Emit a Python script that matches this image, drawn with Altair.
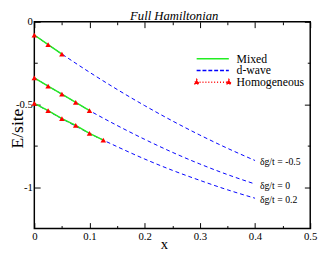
import altair as alt
import pandas as pd

# ---- data ----
title_text = ["Full Hamiltonian"]
groups = ["δg/t = -0.5", "δg/t = 0", "δg/t = 0.2"]

x_dw = [0.0, 0.05, 0.1, 0.15, 0.2, 0.25, 0.3, 0.35, 0.4]
dw_m05 = [-0.080, -0.195, -0.305, -0.409, -0.507, -0.599, -0.685, -0.765, -0.839]
dw_0 = [-0.339, -0.438, -0.537, -0.627, -0.711, -0.789, -0.860, -0.924, -0.981]
dw_02 = [-0.493, -0.586, -0.675, -0.755, -0.830, -0.898, -0.959, -1.016, -1.067]

x_h = [0.0, 0.025, 0.05, 0.075, 0.1, 0.125]
hom_m05 = [-0.080, -0.138, -0.195]
hom_0 = [-0.339, -0.389, -0.438, -0.487, -0.537]
hom_02 = [-0.493, -0.537, -0.586, -0.627, -0.675, -0.716]

legend_labels = ["Mixed", "d-wave", "Homogeneous"]

x_major = [0, 0.1, 0.2, 0.3, 0.4, 0.5]
x_minor = [0.05, 0.15, 0.25, 0.35, 0.45]
y_major = [0, -0.5, -1]
y_minor = [-0.25, -0.75]

# ---- tables ----
dw_rows = []
for g, ys in zip(groups, [dw_m05, dw_0, dw_02]):
    for xv, yv in zip(x_dw, ys):
        dw_rows.append({"x": xv, "E": yv, "g": g})
dw_df = pd.DataFrame(dw_rows)

hom_rows = []
for g, ys in zip(groups, [hom_m05, hom_0, hom_02]):
    for xv, yv in zip(x_h, ys):
        hom_rows.append({"x": xv, "E": yv, "g": g})
hom_df = pd.DataFrame(hom_rows)

end_df = dw_df.groupby("g", sort=False).tail(1)
leg_df = pd.DataFrame({"series": legend_labels})
title_df = pd.DataFrame({"t": title_text})

FONT = "Liberation Serif"
W, H = 283, 212
xs = alt.Scale(domain=[0, 0.5], nice=False, zero=False)
ys_ = alt.Scale(domain=[-1.25, 0], nice=False, zero=False)


def ax(orient, values, size, **kw):
    return alt.Axis(orient=orient, values=values, tickSize=size, offset=-size,
                    domain=False, grid=False, tickColor="black", tickWidth=1,
                    **kw)


x_bottom = ax("bottom", x_major, 6, labels=True, labelPadding=2, labelFlush=False,
              labelOverlap=False, labelExpr="toString(datum.value)",
              title="x", titleX=133, titleY=27, titleBaseline="alphabetic",
              titleFontSize=15)
y_left = ax("left", y_major, 6, labels=True, labelPadding=2, labelOverlap=False,
            labelExpr="toString(datum.value)",
            title="E/site", titleX=-18, titleY=109, titleBaseline="alphabetic",
            titleFontSize=18)
x_top = ax("top", x_major, 6, labels=False, title=None)
y_right = ax("right", y_major, 6, labels=False, title=None)
x_bottom_minor = ax("bottom", x_minor, 3, labels=False, title=None)
y_left_minor = ax("left", y_minor, 3, labels=False, title=None)
x_top_minor = ax("top", x_minor, 3, labels=False, title=None)
y_right_minor = ax("right", y_minor, 3, labels=False, title=None)

dwave = alt.Chart(dw_df).mark_line(
    color="#0000ff", strokeDash=[4, 3], strokeWidth=1, interpolate="monotone"
).encode(
    x=alt.X("x:Q", scale=xs, axis=x_bottom),
    y=alt.Y("E:Q", scale=ys_, axis=y_left),
    detail="g:N",
)

hom_line = alt.Chart(hom_df).mark_line(
    color="#ff0000", strokeDash=[1, 2], strokeWidth=1
).encode(
    x=alt.X("x:Q", scale=xs, axis=None),
    y=alt.Y("E:Q", scale=ys_, axis=None),
    detail="g:N",
)

mixed = alt.Chart(hom_df).mark_line(
    color="#22ee22", strokeWidth=1.5
).encode(
    x=alt.X("x:Q", scale=xs, axis=x_top),
    y=alt.Y("E:Q", scale=ys_, axis=y_right),
    detail="g:N",
)

hom_pts = alt.Chart(hom_df).mark_point(
    shape="triangle-up", filled=True, color="#ff0000", size=32, opacity=1
).encode(
    x=alt.X("x:Q", scale=xs, axis=x_bottom_minor),
    y=alt.Y("E:Q", scale=ys_, axis=y_left_minor),
)

labels = alt.Chart(end_df).mark_text(
    align="left", baseline="middle", dx=5, dy=2, font=FONT, fontSize=10,
    color="black"
).encode(
    x=alt.X("x:Q", scale=xs, axis=x_top_minor),
    y=alt.Y("E:Q", scale=ys_, axis=y_right_minor),
    text="g:N",
)

# chart title drawn as text just above the frame (page margin leaves no room higher)
title_mark = alt.Chart(title_df).mark_text(
    align="center", baseline="alphabetic", font=FONT, fontSize=13,
    fontStyle="italic", color="black"
).encode(
    x=alt.value(W / 2 + 2), y=alt.value(-2), text="t:N",
)

line_path = "M-3.3,0H3.3"
hom_path = ("M-3.3,0H3.3M-3.3,-0.55L-2.8,0.35L-3.8,0.35Z"
            "M3.3,-0.55L3.8,0.35L2.8,0.35Z")
leg_colors = ["#22ee22", "#0000ff", "#ff0000"]
legend = alt.Legend(orient="none", legendX=177, legendY=32, title=None,
                    symbolSize=100, labelOffset=18.5, rowPadding=-1, padding=0,
                    labelFont=FONT, labelFontSize=12, labelColor="black",
                    symbolStrokeWidth=1.5)
leg = alt.Chart(leg_df).transform_filter("false").mark_point(
    filled=True, opacity=1, size=100
).encode(
    fill=alt.Fill("series:N", scale=alt.Scale(domain=legend_labels, range=leg_colors), legend=legend),
    stroke=alt.Stroke("series:N", scale=alt.Scale(domain=legend_labels, range=leg_colors), legend=legend),
    shape=alt.Shape("series:N", scale=alt.Scale(domain=legend_labels, range=[line_path, line_path, hom_path]), legend=legend),
    strokeDash=alt.StrokeDash("series:N", scale=alt.Scale(domain=legend_labels, range=[[1, 0], [4, 2], [1, 2]]), legend=legend),
)

chart = alt.layer(dwave, hom_line, mixed, hom_pts, labels, title_mark, leg).resolve_axis(
    x="independent", y="independent"
).properties(
    width=W, height=H,
    autosize="none",
    padding={"left": 27, "top": 11, "right": 9, "bottom": 22},
).configure_view(
    stroke="black", strokeWidth=1.5
).configure_axis(
    labelFont=FONT, labelFontSize=11, labelColor="black",
    titleFont=FONT, titleFontWeight="normal", titleColor="black",
)

chart.save("out.html", embed_options={"renderer": "svg", "actions": False})
